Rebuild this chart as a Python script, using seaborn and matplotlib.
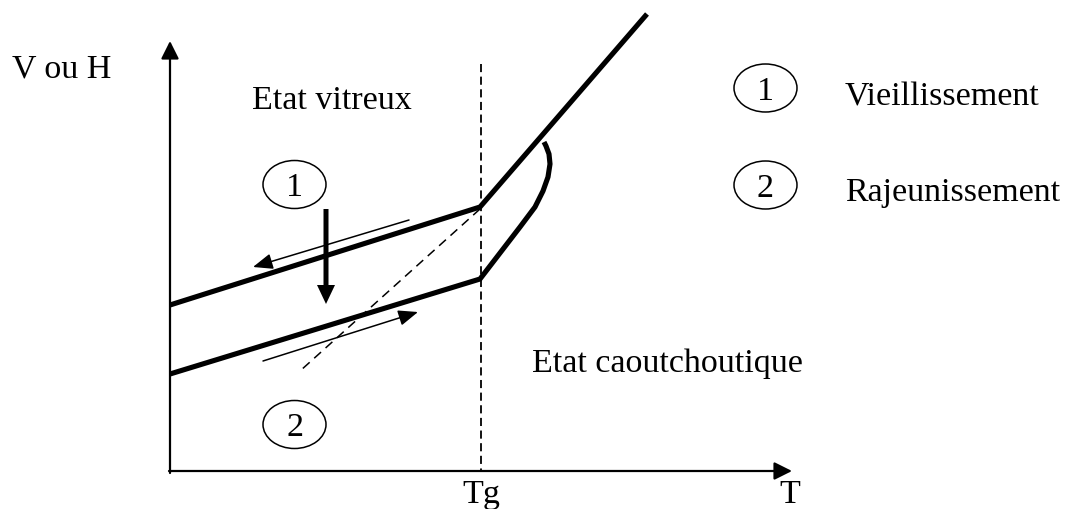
import numpy as np
import pandas as pd
import matplotlib.pyplot as plt
from matplotlib.patches import Ellipse
import seaborn as sns

# schematic in picture units (x = T to the right, y = V ou H downward)
glass_T = [170, 480]
upper_glass_V = [306, 208]
lower_glass_V = [375, 280]
rubber_T = [480, 647]
rubber_V = [208, 15]
return_T = [481, 520, 535, 543, 548, 550, 549, 546, 544]
return_V = [280, 228, 208, 192, 178, 165, 155, 147, 143]
extrap_T = [480, 300]
extrap_V = [210, 372]
Tg = 481
Tg_top = 65
origin = (170, 472)
T_end = 792
V_end = 42

# arrows: (tail, head)
cool_arrow = ((409, 221), (253, 268))
heat_arrow = ((263, 362), (418, 313))
aging_arrow = ((326, 210), (326, 305))

# labels
circles = {'1': (294.5, 185.5), '2': (294.5, 425.5)}
legend_circles = {'1': (765.5, 89), '2': (765.5, 186)}
legend_labels = ['Vieillissement', 'Rajeunissement']
legend_y = [105, 201]

sns.set_theme(style='white')
plt.rcParams['font.family'] = ['Liberation Serif', 'DejaVu Serif']
plt.rcParams['text.color'] = 'black'
fs = 24.5

fig = plt.figure(figsize=(10.69, 5.10), dpi=100)
ax = fig.add_axes([0, 0, 1, 1])
ax.set_xlim(0, 1069)
ax.set_ylim(510, 0)
ax.axis('off')

upper = pd.DataFrame({'T': glass_T + rubber_T[1:], 'V': upper_glass_V + rubber_V[1:]})
lower = pd.DataFrame({'T': glass_T + return_T[1:], 'V': lower_glass_V + return_V[1:]})
for d in (upper, lower):
    sns.lineplot(data=d, x='T', y='V', sort=False, estimator=None, color='black',
                 lw=3.7, ax=ax, solid_joinstyle='round', solid_capstyle='butt')

sns.lineplot(x=extrap_T, y=extrap_V, sort=False, estimator=None, color='black',
             lw=1.1, ax=ax, linestyle=(0, (6, 4)))
ax.vlines(Tg, Tg_top, origin[1], color='black', lw=1.3, linestyles=(0, (4.5, 2.5)))

# axes with arrows
ax_arrow = dict(arrowstyle='-|>,head_length=0.6,head_width=0.3', mutation_scale=18,
                lw=1.6, color='black', shrinkA=0, shrinkB=0)
ax.annotate('', xy=(origin[0], V_end), xytext=(origin[0], origin[1] + 2), arrowprops=ax_arrow)
ax.annotate('', xy=(T_end, origin[1]), xytext=(origin[0] - 1, origin[1]), arrowprops=ax_arrow)

thin = dict(arrowstyle='-|>,head_length=0.75,head_width=0.3', mutation_scale=16,
            lw=1.1, color='black', shrinkA=0, shrinkB=0)
for tail, head in (cool_arrow, heat_arrow):
    ax.annotate('', xy=head, xytext=tail, arrowprops=thin)

(ax0, ay0), (ax1, ay1) = aging_arrow
ax.arrow(ax0, ay0, ax1 - ax0, ay1 - ay0, width=5, head_width=18, head_length=19,
         length_includes_head=True, color='black', lw=0)

for num, (cx, cy) in list(circles.items()) + list(legend_circles.items()):
    ax.add_patch(Ellipse((cx, cy), 63, 48, fill=False, lw=1.1, ec='black'))
    ax.text(cx, cy + 11, num, fontsize=fs, ha='center', va='baseline')

for lab, y in zip(legend_labels, legend_y):
    ax.text(845, y, lab, fontsize=fs, ha='left', va='baseline')

ax.text(12, 78, 'V ou H', fontsize=fs, ha='left', va='baseline')
ax.text(252, 109, 'Etat vitreux', fontsize=fs, ha='left', va='baseline')
ax.text(532, 372, 'Etat caoutchoutique', fontsize=fs, ha='left', va='baseline')
ax.text(Tg, 503, 'Tg', fontsize=fs, ha='center', va='baseline')
ax.text(790, 503, 'T', fontsize=fs, ha='center', va='baseline')

fig.savefig('out.png', dpi=100)
